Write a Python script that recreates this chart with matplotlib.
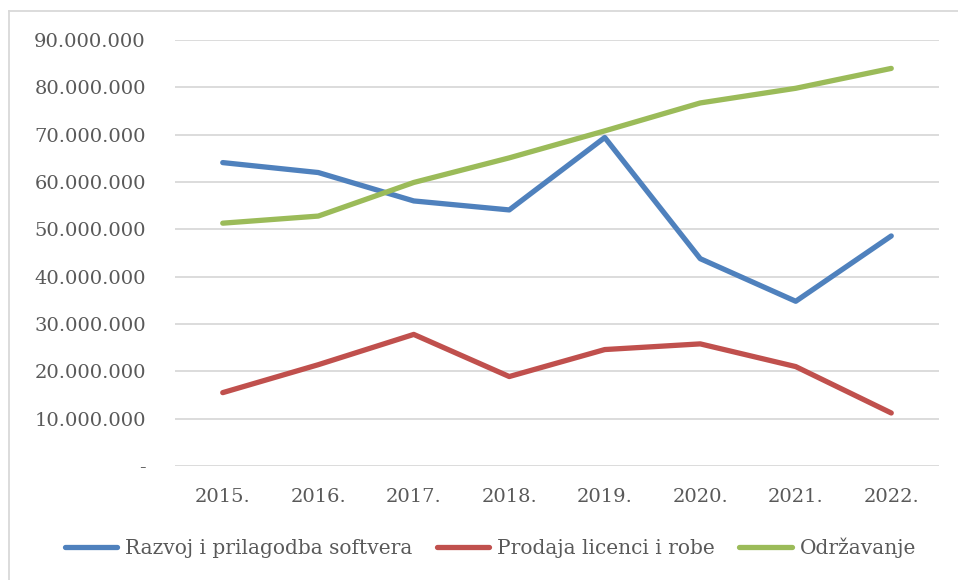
import matplotlib.pyplot as plt
from matplotlib.ticker import FuncFormatter
from matplotlib.lines import Line2D

years = ['2015.', '2016.', '2017.', '2018.', '2019.', '2020.', '2021.', '2022.']
razvoj = [64.1e6, 62.0e6, 56.0e6, 54.1e6, 69.4e6, 43.8e6, 34.8e6, 48.6e6]
prodaja = [15.5e6, 21.4e6, 27.8e6, 18.9e6, 24.6e6, 25.8e6, 21.0e6, 11.2e6]
odrzavanje = [51.3e6, 52.8e6, 59.9e6, 65.1e6, 70.8e6, 76.7e6, 79.8e6, 84.0e6]

series = [
    ('Razvoj i prilagodba softvera', razvoj, '#4F81BD'),
    ('Prodaja licenci i robe', prodaja, '#C0504D'),
    ('Održavanje', odrzavanje, '#9BBB59'),
]

plt.rcParams['font.family'] = ['DejaVu Serif']
text_color = '#595959'

fig = plt.figure(figsize=(9.58, 5.8), dpi=100)
ax = fig.add_axes([175 / 958, 1 - 466 / 580, (939 - 175) / 958, (466 - 40) / 580])

x = range(len(years))
for name, vals, col in series:
    ax.plot(x, vals, color=col, lw=3.8, solid_capstyle='round',
            solid_joinstyle='round', label=name)

ax.set_xlim(-0.5, len(years) - 0.5)
ax.set_ylim(0, 90e6)
ax.set_yticks([i * 10e6 for i in range(10)])
ax.yaxis.set_major_formatter(FuncFormatter(
    lambda v, p: '-' if v == 0 else f'{int(v):,}'.replace(',', '.')))
ax.set_xticks(list(x))
ax.set_xticklabels(years)

ax.grid(axis='y', color='#d9d9d9', lw=1.3)
ax.set_axisbelow(True)
for s in ax.spines.values():
    s.set_visible(False)
ax.tick_params(axis='y', length=0, pad=21, labelsize=14, labelcolor=text_color)
ax.tick_params(axis='x', length=0, pad=16, labelsize=14, labelcolor=text_color)

# chart frame: only top and left edges show in the crop
fig.add_artist(Line2D([8.5 / 958, 8.5 / 958], [0, 1 - 10.5 / 580], transform=fig.transFigure,
                      color='#d9d9d9', lw=1.3))
fig.add_artist(Line2D([8.5 / 958, 1], [1 - 10.5 / 580, 1 - 10.5 / 580], transform=fig.transFigure,
                      color='#d9d9d9', lw=1.3))

fig.legend(loc='center', bbox_to_anchor=(0.512, 1 - 548 / 580), ncol=3, frameon=False,
           fontsize=14.5, labelcolor=text_color, handlelength=2.6, handletextpad=0.4,
           columnspacing=1.2)

fig.savefig('out.png', dpi=100)
